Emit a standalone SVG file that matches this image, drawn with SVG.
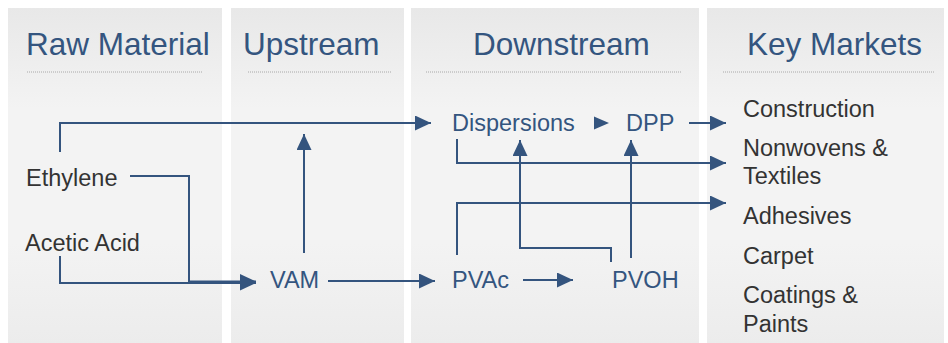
<svg xmlns="http://www.w3.org/2000/svg" width="948" height="343" viewBox="0 0 948 343">
<style>
.hdr{font-family:"Liberation Sans",Arial,sans-serif;font-size:31.5px;fill:#34557f}
.blue{font-family:"Liberation Sans",Arial,sans-serif;font-size:23.5px;fill:#34557f}
.dark{font-family:"Liberation Sans",Arial,sans-serif;font-size:23.5px;fill:#333333}
.dot{stroke:#a8a8a8;stroke-width:1;stroke-dasharray:1 1;fill:none}
.ln{stroke:#34547e;stroke-width:2;fill:none}
.arr{marker-end:url(#ah)}
</style>
<defs>
<linearGradient id="bg" x1="0" y1="0" x2="0" y2="1">
<stop offset="0" stop-color="#e8e8e8"/>
<stop offset="0.3" stop-color="#f3f3f3"/>
<stop offset="0.7" stop-color="#f3f3f3"/>
<stop offset="1" stop-color="#ececec"/>
</linearGradient>
<marker id="ah" markerUnits="userSpaceOnUse" markerWidth="17" markerHeight="16" refX="16" refY="7.5" orient="auto">
<path d="M0,0 L16,7.5 L0,15 Z" fill="#34547e"/>
</marker>
</defs>
<rect width="948" height="343" fill="#ffffff"/>
<g id="panels">
<rect x="8" y="8" width="214" height="335" fill="url(#bg)"/>
<rect x="231" y="8" width="173" height="335" fill="url(#bg)"/>
<rect x="411" y="8" width="288" height="335" fill="url(#bg)"/>
<rect x="707" y="8" width="237" height="335" fill="url(#bg)"/>
</g>
<g id="headers">
<text class="hdr" x="26" y="55">Raw Material</text>
<line class="dot" x1="27" y1="72" x2="203" y2="72"/>
<text class="hdr" x="243" y="55">Upstream</text>
<line class="dot" x1="248" y1="72" x2="391" y2="72"/>
<text class="hdr" x="473" y="55">Downstream</text>
<line class="dot" x1="426" y1="72" x2="681" y2="72"/>
<text class="hdr" x="747" y="55">Key Markets</text>
<line class="dot" x1="723" y1="72" x2="934" y2="72"/>
</g>
<g id="connectors">
<path class="ln arr" d="M60,152 V123 H431"/>
<path class="ln arr" d="M130,176 H189 V281.5 H256"/>
<path class="ln arr" d="M60,256 V283 H256"/>
<path class="ln arr" d="M328,281 H435"/>
<path class="ln arr" d="M304,253 V134"/>
<path class="ln arr" d="M457,139 V163 H726"/>
<polygon points="594,116.5 609,123 594,129.5" fill="#34547e"/>
<path class="ln arr" d="M689,123 H726"/>
<path class="ln arr" d="M457,255 V203 H726"/>
<path class="ln arr" d="M523,280 H573"/>
<path class="ln arr" d="M611,262 V248 H520 V140"/>
<path class="ln arr" d="M631,258 V140"/>
</g>
<g id="ethylene"><text class="dark" x="26" y="186">Ethylene</text></g>
<g id="acetic-acid"><text class="dark" x="25" y="251">Acetic Acid</text></g>
<g id="vam"><text class="blue" x="270" y="288">VAM</text></g>
<g id="pvac"><text class="blue" x="452" y="288">PVAc</text></g>
<g id="pvoh"><text class="blue" x="612" y="288">PVOH</text></g>
<g id="dispersions"><text class="blue" x="452" y="131">Dispersions</text></g>
<g id="dpp"><text class="blue" x="626" y="131">DPP</text></g>
<g id="construction"><text class="dark" x="743" y="117">Construction</text></g>
<g id="nonwovens"><text class="dark" x="743" y="156">Nonwovens &amp;</text><text class="dark" x="743" y="184">Textiles</text></g>
<g id="adhesives"><text class="dark" x="743" y="224">Adhesives</text></g>
<g id="carpet"><text class="dark" x="743" y="264">Carpet</text></g>
<g id="coatings"><text class="dark" x="743" y="303">Coatings &amp;</text><text class="dark" x="743" y="332">Paints</text></g>
</svg>
